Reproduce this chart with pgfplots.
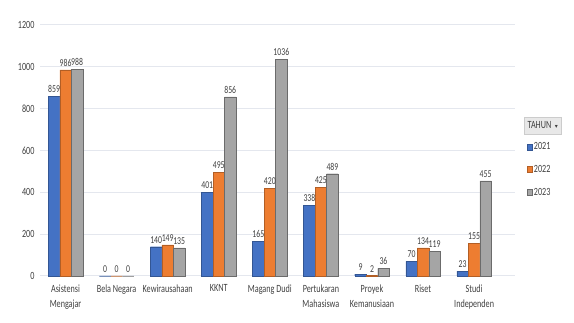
\documentclass[border=0pt]{standalone}
\usepackage{pgfplots}
\pgfplotsset{compat=1.18}
\usepackage{fontspec}
\setmainfont{Carlito}[FakeStretch=0.74]
\newfontfamily\symfont{DejaVu Sans}
\definecolor{c21}{HTML}{4472C4}
\definecolor{c22}{HTML}{ED7D31}
\definecolor{c23}{HTML}{A5A5A5}
\definecolor{gridc}{HTML}{E4E7EE}
\definecolor{txt}{HTML}{404040}
\begin{document}
\begin{tikzpicture}
\path[use as bounding box] (0,0) rectangle (574pt,322pt);
\begin{axis}[
  at={(40pt,46pt)}, anchor=south west,
  scale only axis, width=475pt, height=251pt,
  clip=false,
  ybar=0pt, bar width=11.5pt,
  xmin=-0.5, xmax=8.8,
  ymin=0, ymax=1200,
  ytick={0,200,...,1200},
  xtick={0,...,8},
  xticklabels={{Asistensi\\Mengajar},{Bela Negara},{Kewirausahaan},{KKNT},{Magang Dudi},{Pertukaran\\Mahasiswa},{Proyek\\Kemanusiaan},{Riset},{Studi\\Independen}},
  xticklabel style={align=center, font=\fontsize{11}{15}\selectfont, text=txt, yshift=-5pt},
  yticklabel style={font=\fontsize{11}{12}\selectfont, text=txt, xshift=-2pt},
  /pgf/number format/assume math mode=true,
  /pgf/number format/1000 sep={},
  ymajorgrids, grid style={gridc, line width=1pt},
  axis line style={draw=none},
  axis x line*=bottom,
  x axis line style={draw=gridc, line width=1pt},
  major tick length=0pt,
  nodes near coords,
  every node near coord/.append style={font=\fontsize{10.5}{11}\selectfont, text=txt},
  legend style={at={(rel axis cs:1.024,0.54)}, anchor=north west, draw=none, fill=none,
    font=\fontsize{11}{12}\selectfont, text=txt, row sep=10pt, inner sep=0pt},
  legend cell align=left,
  legend image code/.code={\fill[#1] (0pt,-3pt) rectangle (5pt,3pt);},
]
\addplot[fill=c21, draw=c21!75!black] coordinates {(0,859) (1,0) (2,140) (3,401) (4,165) (5,338) (6,9) (7,70) (8,23)};
\addplot[fill=c22, draw=c22!75!black] coordinates {(0,986) (1,0) (2,149) (3,495) (4,420) (5,425) (6,2) (7,134) (8,155)};
\addplot[fill=c23, draw=c23!65!black] coordinates {(0,988) (1,0) (2,135) (3,856) (4,1036) (5,489) (6,36) (7,119) (8,455)};
\legend{2021,2022,2023}
\node[anchor=west, fill=gray!18, draw=gray!40, font=\fontsize{11}{12}\selectfont, text=txt, inner sep=3pt, minimum height=17pt]
  at (rel axis cs:1.02,0.60) {TAHUN \,{\symfont\fontsize{6}{6}\selectfont ▾}};
\end{axis}
\end{tikzpicture}
\end{document}
